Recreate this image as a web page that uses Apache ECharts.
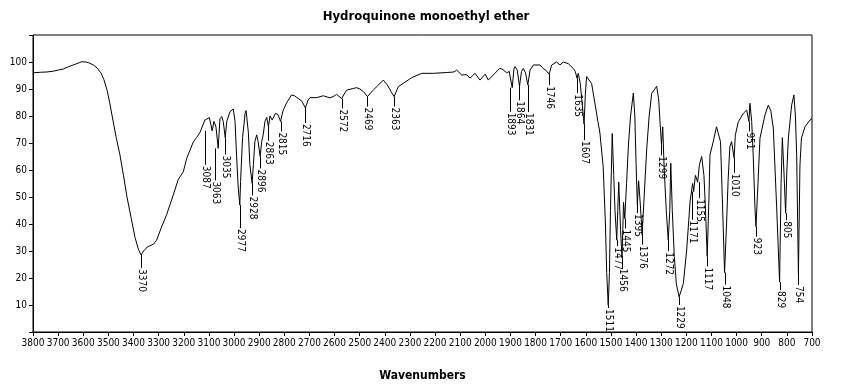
<!DOCTYPE html>
<html>
<head>
<meta charset="utf-8">
<script src="https://cdn.jsdelivr.net/npm/echarts@6/dist/echarts.min.js"></script>
<style>
html,body{margin:0;padding:0;background:#fff;}
#chart{width:852px;height:389px;}
</style>
</head>
<body>
<div id="chart"></div>
<script>
// ---- data ----
const chartTitle = 'Hydroquinone monoethyl ether';
const xAxisName = 'Wavenumbers';
const wavenumber = [3800,3770,3745,3720,3700,3680,3660,3640,3620,3605,3590,3575,3560,3545,3530,3518,3505,3495,3482,3470,3454,3440,3426,3410,3394,3380,3370,3360,3345,3321,3308,3290,3268,3242,3222,3202,3188,3175,3162,3149,3135,3116,3098,3087,3080,3072,3063,3056,3049,3043,3035,3029,3016,3003,2996,2990,2983,2977,2974,2966,2956,2952,2943,2937,2928,2923,2917,2910,2904,2896,2890,2884,2877,2870,2863,2857,2848,2835,2825,2815,2805,2790,2771,2760,2745,2730,2716,2705,2698,2671,2645,2618,2600,2592,2572,2552,2525,2512,2499,2485,2469,2446,2425,2406,2390,2375,2363,2346,2320,2293,2253,2207,2154,2125,2114,2094,2074,2061,2041,2021,2001,1988,1962,1942,1930,1915,1905,1893,1886,1882,1873,1864,1856,1849,1840,1831,1822,1809,1783,1770,1760,1746,1736,1716,1703,1690,1670,1650,1642,1635,1630,1622,1615,1607,1602,1597,1590,1577,1564,1552,1544,1531,1522,1517,1511,1506,1502,1495,1489,1484,1477,1473,1469,1462,1456,1450,1445,1438,1430,1422,1411,1405,1400,1395,1390,1383,1376,1368,1358,1348,1338,1318,1310,1305,1299,1294,1288,1280,1272,1266,1262,1256,1248,1240,1229,1220,1212,1199,1185,1175,1171,1164,1155,1148,1139,1130,1125,1117,1110,1106,1093,1080,1073,1064,1056,1048,1040,1034,1027,1020,1010,1005,993,973,960,951,947,940,934,927,923,915,907,887,874,864,854,841,829,823,818,812,805,800,794,781,772,766,761,754,748,742,728,708,700];
const transmittance = [96.0,96.2,96.3,96.6,97.0,97.4,98.2,98.9,99.6,100.1,100.0,99.6,98.9,97.8,96.0,93.5,89.5,85.0,78.5,72.5,65.6,58.0,50.0,42.5,35.0,30.5,28.5,30.0,31.5,32.5,34.0,38.5,43.5,50.7,56.5,59.3,64.4,67.4,70.4,72.0,74.0,78.5,79.4,74.5,78.0,76.0,68.0,79.0,79.8,78.0,72.0,78.0,81.6,82.6,78.0,65.6,53.0,47.0,55.7,72.0,81.0,82.0,74.0,62.0,55.0,62.0,70.5,73.0,70.5,65.0,70.5,73.0,78.0,79.5,76.0,80.0,78.5,81.0,80.5,78.0,82.0,85.0,87.8,87.5,86.5,85.5,83.0,86.0,86.8,86.8,87.5,86.7,87.5,88.0,86.5,89.6,90.2,90.5,90.0,89.0,87.2,89.6,91.5,93.3,91.5,89.0,87.2,90.9,92.5,94.2,95.8,95.8,96.1,96.3,97.0,95.2,95.3,94.0,95.8,93.3,95.5,93.3,95.8,97.7,97.2,96.0,96.5,90.5,97.5,98.3,97.0,91.0,96.5,97.6,96.0,91.5,97.0,98.9,98.9,97.6,97.0,95.5,98.9,100.0,98.9,100.0,99.4,97.6,96.5,94.0,95.8,92.0,85.0,77.0,88.0,94.6,94.0,92.0,84.8,78.0,73.7,61.2,40.0,22.0,10.0,22.0,45.0,73.5,58.0,45.0,34.0,45.0,55.5,38.0,27.5,48.0,42.0,55.0,70.0,80.0,88.5,80.0,62.0,47.0,56.0,47.0,36.0,50.0,67.4,80.0,88.4,91.0,86.0,78.0,69.5,76.0,60.0,45.0,34.0,45.0,62.5,45.0,28.0,18.0,13.0,15.5,18.0,30.0,48.5,55.0,52.0,58.0,55.5,62.0,65.0,58.0,48.0,28.0,50.0,65.6,70.5,76.0,76.5,70.5,47.0,22.0,40.0,55.7,68.6,70.5,64.5,73.0,77.9,81.0,82.2,78.0,84.7,78.0,65.6,46.0,39.0,55.0,71.8,80.4,84.0,82.0,75.5,47.0,18.5,55.0,72.0,60.0,44.0,60.0,71.8,84.0,87.8,80.0,65.6,21.5,61.8,71.8,76.0,78.5,79.0];
const peakWn = [3370,3087,3063,3035,2977,2928,2896,2863,2815,2716,2572,2469,2363,1893,1864,1831,1746,1635,1607,1511,1477,1456,1445,1395,1376,1299,1272,1229,1171,1155,1117,1048,1010,951,923,829,805,754];
const xTicks = {min: 700, max: 3800, step: 100};
const yTicks = {min: 0, max: 110, step: 10};

// ---- label layout (leader length px, horizontal nudge px) ----
const labelLead = {3370:13,3087:34,3063:32,3035:17,2977:23,2928:12,2896:12,2863:14,2815:10,2716:15,2572:10,2469:10,2363:10,1893:24,1864:14,1831:27,1746:11,1635:15,1607:16,1511:3,1477:6,1456:10,1445:10,1395:8,1376:10,1299:11,1272:11,1229:8,1171:28,1155:16,1117:10,1048:12,1010:15,951:10,923:10,829:8,805:7,754:11};
const labelDx = {3087:-7,3063:-3,1893:-2,1171:-2,1155:1};

const FONT = '"Liberation Sans Narrow","DejaVu Sans Condensed","Arial Narrow",sans-serif';

const spectrum = wavenumber.map((w, i) => [w, transmittance[i]]);
const peaks = peakWn.map(w => [w, transmittance[wavenumber.indexOf(w)]]);

const chart = echarts.init(document.getElementById('chart'), null, {renderer: 'canvas'});
chart.setOption({
  animation: false,
  backgroundColor: '#fff',
  title: {
    text: chartTitle, left: 'center', top: 5,
    textStyle: {fontFamily: FONT, fontWeight: 'bold', fontSize: 13, color: '#000'}
  },
  grid: {left: 33, right: 40, top: 35, bottom: 57, show: true, borderColor: '#000', borderWidth: 1, containLabel: false},
  xAxis: {
    type: 'value', inverse: true,
    min: xTicks.min, max: xTicks.max, interval: xTicks.step,
    name: xAxisName, nameLocation: 'middle', nameGap: 38,
    nameTextStyle: {fontFamily: FONT, fontWeight: 'bold', fontSize: 12, color: '#000'},
    axisLine: {show: true, onZero: false, lineStyle: {color: '#000', width: 1}},
    axisTick: {show: true, inside: false, length: 4, lineStyle: {color: '#000'}},
    axisLabel: {show: true, fontFamily: FONT, fontSize: 10, color: '#000', margin: 6, hideOverlap: false,
      showMinLabel: true, showMaxLabel: true, formatter: v => String(v)},
    splitLine: {show: false}
  },
  yAxis: {
    type: 'value', min: yTicks.min, max: yTicks.max, interval: yTicks.step,
    axisLine: {show: true, onZero: false, lineStyle: {color: '#000', width: 1}},
    axisTick: {show: true, length: 4, lineStyle: {color: '#000'}},
    axisLabel: {fontFamily: FONT, fontSize: 10, color: '#000', margin: 6,
      formatter: v => (v === yTicks.min || v === yTicks.max) ? '' : String(v)},
    splitLine: {show: false}
  },
  series: [
    {
      type: 'line', data: spectrum, showSymbol: false, symbol: 'none',
      lineStyle: {color: '#000', width: 1}, silent: true, z: 3
    },
    {
      type: 'custom', data: peaks, clip: false, silent: true, z: 4,
      renderItem: function (params, api) {
        const w = api.value(0), t = api.value(1);
        const p = api.coord([w, t]);
        const lead = labelLead[w] != null ? labelLead[w] : 11;
        const dx = labelDx[w] || 0;
        const x = Math.round(p[0] + dx) + 0.5;
        const y0 = p[1];
        const y1 = p[1] + lead;
        return {
          type: 'group',
          children: [
            {type: 'line', shape: {x1: x, y1: y0, x2: x, y2: y1}, style: {stroke: '#000', lineWidth: 1}},
            {type: 'text', x: x, y: y1 + 1, rotation: -Math.PI / 2,
              style: {text: String(w), x: 0, y: 0, fill: '#000', font: '10px ' + FONT,
                align: 'left', verticalAlign: 'middle', textAlign: 'left', textVerticalAlign: 'middle'}}
          ]
        };
      }
    }
  ]
});
</script>
</body>
</html>
